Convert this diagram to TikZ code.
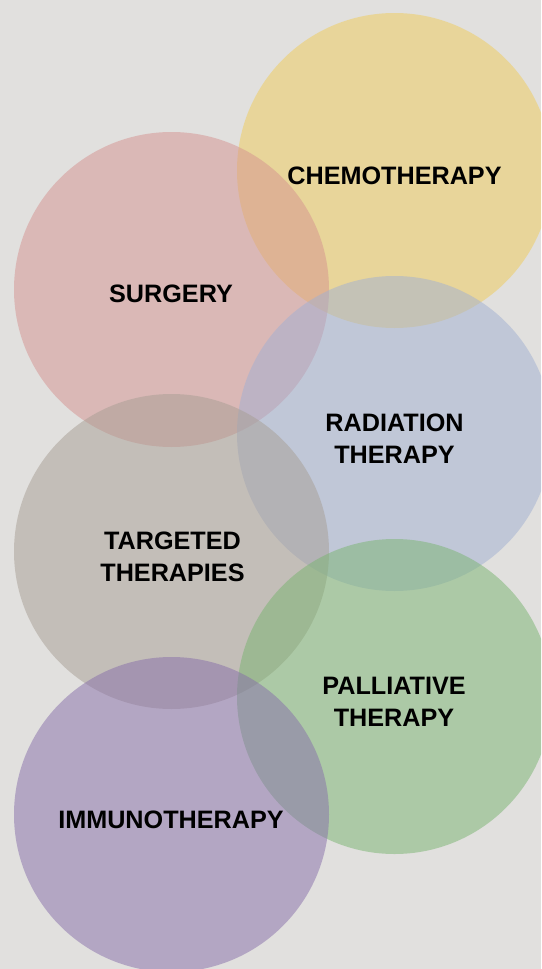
\documentclass[tikz,border=0pt]{standalone}
\usepackage{fontspec}
\setmainfont{Liberation Sans}
\usetikzlibrary{shapes.geometric}

% base colours of the bubbles (drawn at half opacity)
\definecolor{bgC}{RGB}{225,224,222}
\definecolor{chemoC}{RGB}{239,204,88}
\definecolor{surgC}{RGB}{213,146,144}
\definecolor{radC}{RGB}{161,176,210}
\definecolor{targC}{RGB}{167,158,148}
\definecolor{pallC}{RGB}{121,180,112}
\definecolor{immC}{RGB}{135,110,170}

\tikzset{
  bubble/.style={circle, minimum size=315pt, inner sep=0pt,
    draw=none, fill opacity=0.5},
  lbl/.style={anchor=base, align=center, inner sep=0pt,
    font=\fontsize{25.2}{32}\selectfont\bfseries, text=black}
}

\begin{document}
\begin{tikzpicture}[x=1pt,y=-1pt]
  \fill[bgC] (0,0) rectangle (541,969);
  \useasboundingbox (0,0) rectangle (541,969);
  \clip (0,0) rectangle (541,969);

  % overlapping bubbles, top to bottom
  \node[bubble, fill=chemoC] (chemo) at (394.5,170.5) {};
  \node[bubble, fill=surgC]  (surg)  at (171.5,289.5) {};
  \node[bubble, fill=radC]   (rad)   at (394.5,433.5) {};
  \node[bubble, fill=targC]  (targ)  at (171.5,551.5) {};
  \node[bubble, fill=pallC]  (pall)  at (394.5,696.5) {};
  \node[bubble, fill=immC]   (imm)   at (171.5,814.5) {};

  % labels (anchor is the baseline of the last line)
  \node[lbl] (chemoT) at (394.5,184) {CHEMOTHERAPY};
  \node[lbl] (surgT)  at (171,302)   {SURGERY};
  \node[lbl] (radT)   at (394.5,463) {RADIATION\\THERAPY};
  \node[lbl] (targT)  at (172.5,581) {TARGETED\\THERAPIES};
  \node[lbl] (pallT)  at (394,726)   {PALLIATIVE\\THERAPY};
  \node[lbl] (immT)   at (171,828)   {IMMUNOTHERAPY};
\end{tikzpicture}
\end{document}
